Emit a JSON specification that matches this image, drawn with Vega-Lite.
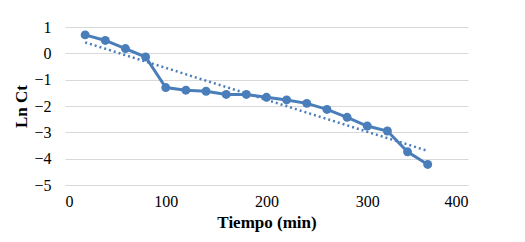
{
  "$schema": "https://vega.github.io/schema/vega-lite/v6.json",
  "width": 403,
  "height": 158,
  "autosize": {"type": "none"},
  "padding": {"left": 65, "top": 27, "right": 57, "bottom": 57},
  "background": "white",
  "config": {
    "view": {"stroke": null},
    "font": "Liberation Serif",
    "axis": {"labelFont": "Liberation Serif", "titleFont": "Liberation Serif", "labelColor": "#000", "titleColor": "#000"}
  },
  "data": {"values": [
    {"t": 20, "lnct": 0.70},
    {"t": 40, "lnct": 0.49},
    {"t": 60, "lnct": 0.18},
    {"t": 80, "lnct": -0.14},
    {"t": 100, "lnct": -1.30},
    {"t": 120, "lnct": -1.40},
    {"t": 140, "lnct": -1.44},
    {"t": 160, "lnct": -1.56},
    {"t": 180, "lnct": -1.56},
    {"t": 200, "lnct": -1.67},
    {"t": 220, "lnct": -1.77},
    {"t": 240, "lnct": -1.90},
    {"t": 260, "lnct": -2.13},
    {"t": 280, "lnct": -2.43},
    {"t": 300, "lnct": -2.76},
    {"t": 320, "lnct": -2.95},
    {"t": 340, "lnct": -3.74},
    {"t": 360, "lnct": -4.22}
  ]},
  "encoding": {
    "x": {"field": "t", "type": "quantitative", "scale": {"domain": [0, 400], "nice": false},
      "axis": {"values": [0, 100, 200, 300, 400], "grid": false, "ticks": false, "domainColor": "#d9d9d9", "labelFontSize": 16, "labelPadding": 8, "title": "Tiempo (min)", "titleFontSize": 17, "titleFontWeight": "bold", "titlePadding": 5}},
    "y": {"field": "lnct", "type": "quantitative", "scale": {"domain": [-5, 1], "nice": false, "zero": false},
      "axis": {"values": [-5, -4, -3, -2, -1, 0, 1], "grid": true, "gridColor": "#d9d9d9", "domain": false, "ticks": false, "labelFontSize": 16, "labelPadding": 14, "title": "Ln Ct", "titleFontSize": 17, "titleFontWeight": "bold", "titlePadding": 3}}
  },
  "layer": [
    {
      "transform": [{"regression": "lnct", "on": "t", "extent": [20, 360]}],
      "mark": {"type": "line", "color": "#4a7ebb", "strokeWidth": 2.5, "strokeDash": [2, 3]}
    },
    {
      "mark": {"type": "line", "color": "#4a7ebb", "strokeWidth": 3, "point": {"filled": true, "size": 80, "color": "#4a7ebb", "opacity": 1}}
    }
  ]
}
